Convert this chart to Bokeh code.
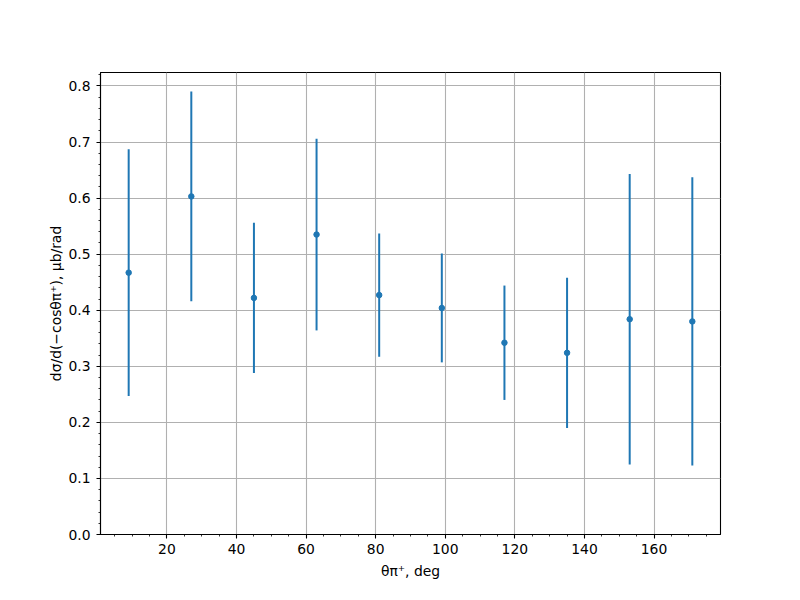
import numpy as np
from bokeh.plotting import figure
from bokeh.models import ColumnDataSource, Range1d, FixedTicker, PrintfTickFormatter
from bokeh.embed import file_html
from bokeh.resources import INLINE

# ---- data ----
angles = [9, 27, 45, 63, 81, 99, 117, 135, 153, 171]
xsec = [0.467, 0.603, 0.422, 0.535, 0.427, 0.404, 0.342, 0.324, 0.384, 0.380]
xsec_err = [0.220, 0.187, 0.134, 0.171, 0.110, 0.097, 0.102, 0.134, 0.259, 0.257]
x_tick_values = [20, 40, 60, 80, 100, 120, 140, 160]
y_tick_values = [0.0, 0.1, 0.2, 0.3, 0.4, 0.5, 0.6, 0.7, 0.8]
x_label = "θπ⁺, deg"
y_label = "dσ/d(−cosθπ⁺), μb/rad"

x_arr = np.array(angles, dtype=float)
y_arr = np.array(xsec)
e_arr = np.array(xsec_err)
src = ColumnDataSource(dict(x=x_arr, y=y_arr, lo=y_arr - e_arr, hi=y_arr + e_arr))

BLUE = "#1f77b4"
FONT = "DejaVu Sans"
FS = "13.9px"

# frame in page pixels: x 100..720, y 72..534
FL, FR, FT, FB = 100, 720, 72, 534
W, H = 784, 584

p = figure(width=W, height=H, output_backend="svg", toolbar_location=None,
           x_range=Range1d(0.9, 179.1), y_range=Range1d(0.0, 0.824),
           min_border_left=FL, min_border_right=W - FR, min_border_top=FT, min_border_bottom=H - FB)
p.background_fill_color = "white"
p.border_fill_color = "white"
p.outline_line_color = "black"
p.outline_line_width = 1.1
p.outline_line_alpha = 1.0

p.segment(x0="x", y0="lo", x1="x", y1="hi", source=src, line_color=BLUE, line_width=2)
p.scatter(x="x", y="y", source=src, size=5.5, fill_color=BLUE, line_color=BLUE)

p.xaxis.ticker = FixedTicker(ticks=x_tick_values, minor_ticks=list(range(5, 180, 5)))
p.yaxis.ticker = FixedTicker(ticks=y_tick_values, minor_ticks=[round(0.02 * i, 2) for i in range(0, 42)])
p.xaxis.formatter = PrintfTickFormatter(format="%d")
p.yaxis.formatter = PrintfTickFormatter(format="%.1f")

for ax in (p.xaxis, p.yaxis):
    ax.axis_line_color = "black"
    ax.axis_line_width = 1.1
    ax.major_tick_line_color = "black"
    ax.minor_tick_line_color = "black"
    ax.major_tick_line_width = 1.1
    ax.minor_tick_line_width = 0.8
    ax.major_tick_in = 0
    ax.major_tick_out = 4
    ax.minor_tick_in = 0
    ax.minor_tick_out = 2
    ax.major_label_text_font = FONT
    ax.major_label_text_font_size = FS
    ax.major_label_text_color = "black"
    ax.axis_label_text_font = FONT
    ax.axis_label_text_font_size = FS
    ax.axis_label_text_font_style = "normal"
    ax.axis_label_text_color = "black"
p.xaxis.axis_label = x_label
p.yaxis.axis_label = y_label
p.xaxis.major_label_standoff = 5
p.yaxis.major_label_standoff = 6
p.xaxis.axis_label_standoff = 6
p.yaxis.axis_label_standoff = 1

p.xgrid.grid_line_color = "#b0b0b0"
p.ygrid.grid_line_color = "#b0b0b0"
p.xgrid.grid_line_width = 1.1
p.ygrid.grid_line_width = 1.1

open("out.html", "w").write(file_html(p, INLINE))
